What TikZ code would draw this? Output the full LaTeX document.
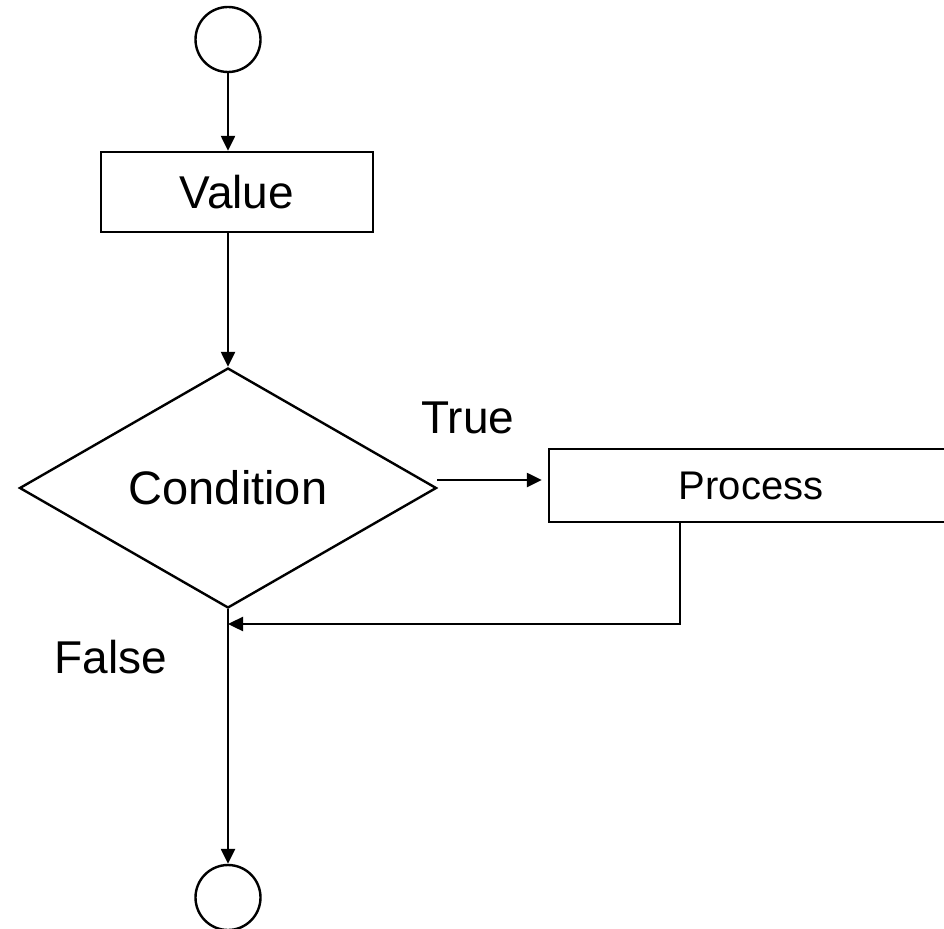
\documentclass[tikz,border=0pt]{standalone}
\usepackage{fontspec}
\setmainfont{Liberation Sans}
\usetikzlibrary{shapes.geometric,arrows.meta}
\begin{document}
\begin{tikzpicture}[x=1pt,y=-1pt,
  every node/.style={inner sep=0pt},
  ln/.style={line width=2.4pt},
  arr/.style={ln,-{Triangle[length=15pt,width=14pt]}},
  term/.style={draw,ln,circle,minimum size=65pt},
  box/.style={draw,ln,rectangle},
  dec/.style={draw,ln,diamond,aspect=1.7375,minimum width=417pt,minimum height=240pt},
  big/.style={font=\fontsize{46}{50}\selectfont},
  lbl/.style={big,anchor=base}]
\useasboundingbox (0,0) rectangle (944,928);
\node[term] (start) at (228,39.5) {};
\node[box,big,minimum width=272pt,minimum height=80pt] (value) at (237,192) {Value};
\node[dec,font=\fontsize{47}{50}\selectfont] (cond) at (228,488) {Condition};
\node[box,font=\fontsize{40}{44}\selectfont,minimum width=404pt,minimum height=73pt] (proc) at (751,485.5) {Process};
\node[term] (stop) at (228,897.5) {};
\node[lbl] (true) at (468,433) {True};
\node[lbl] (false) at (111,673) {False};
\coordinate (join) at (228,624);
\coordinate (tstart) at (437,480);
\draw[arr] (start.south) -- (start.south |- value.north);
\draw[arr] (value.south -| cond.north) -- (cond.north);
\draw[arr,shorten >=6pt] (tstart) -- (tstart -| proc.west);
\draw[arr] ([xshift=-71pt]proc.south) |- (join);
\draw[arr] (cond.south) -- (stop.north);
\end{tikzpicture}
\end{document}
